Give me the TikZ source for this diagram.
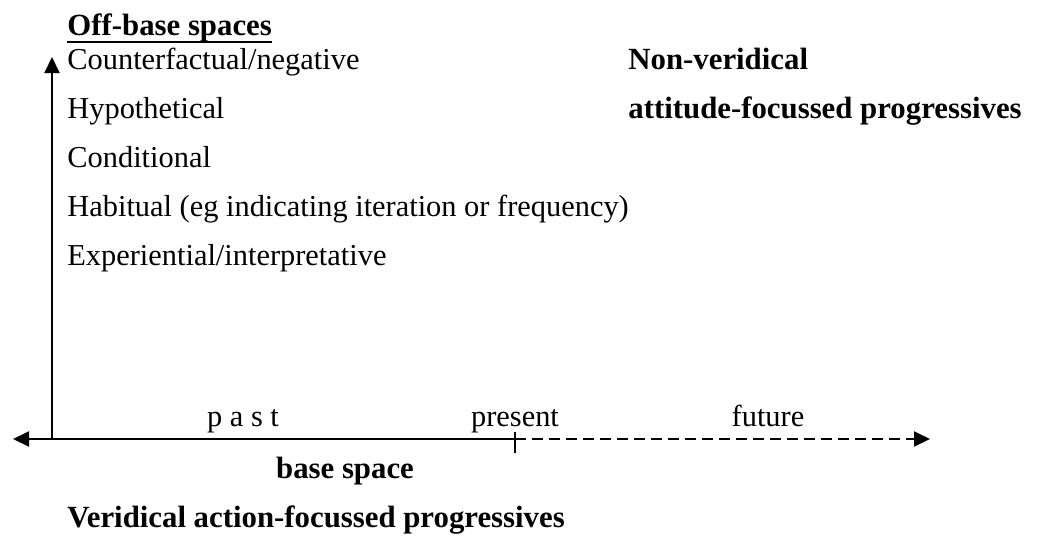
\documentclass[tikz,border=0pt]{standalone}
\usepackage{fontspec}
\setmainfont{Liberation Serif}
\usepackage{tikz}
\usetikzlibrary{arrows.meta,positioning,calc}

\begin{document}
\begin{tikzpicture}[x=0.5pt,y=-0.5pt,
    every node/.style={inner sep=0pt,font=\fontsize{15.2}{18}\selectfont},
    lbl/.style={anchor=base west},
    boldlbl/.style={anchor=base west,font=\fontsize{15.4}{18}\selectfont\bfseries},
    timelbl/.style={anchor=base},
    axisline/.style={line width=1pt},
    tip/.style={-{Triangle[length=8pt,width=7.5pt]}}]
    \useasboundingbox (0,0) rectangle (1042,542);

    % Heading
    \node[boldlbl] (offbase) at (67,35) {Off-base spaces};
    \draw[line width=1.1pt] ([yshift=-3.5pt]offbase.base west) -- ([yshift=-3.5pt]offbase.base east);

    % Off-base spaces
    \foreach \i/\label in {1/{Counterfactual/negative},2/Hypothetical,3/Conditional,4/Habitual (eg indicating iteration or frequency),5/{Experiential/interpretative}} {
        \node[lbl] (s\i) at (67,21+\i*48.8) {\label};
    }

    \node[boldlbl] (nonver) at (628,69.8) {Non-veridical};
    \node[boldlbl] (attitude) at (628,118.6) {attitude-focussed progressives};

    % Axes
    \coordinate (origin) at (52,439);
    \coordinate (top) at (52,57);
    \coordinate (left) at (13,439);
    \coordinate (now) at (515,439);
    \coordinate (right) at (930,439);
    \coordinate (ticktop) at (515,432);
    \coordinate (tickbot) at (515,453);

    \draw[axisline,tip] (origin) -- (top);
    \draw[axisline,tip] (now) -- (left);
    \draw[axisline,tip,dash pattern=on 5.5pt off 3pt] (now) -- (right);
    \draw[axisline] (ticktop) -- (tickbot);

    % Time labels
    \node[timelbl] (past) at (243,426) {p a s t};
    \node[timelbl] (present) at (515,426) {present};
    \node[timelbl] (future) at (768,426) {future};

    \node[timelbl,font=\fontsize{15.4}{18}\selectfont\bfseries] (base) at (345,478) {base space};
    \node[boldlbl] (veridical) at (67,527) {Veridical action-focussed progressives};
\end{tikzpicture}
\end{document}
